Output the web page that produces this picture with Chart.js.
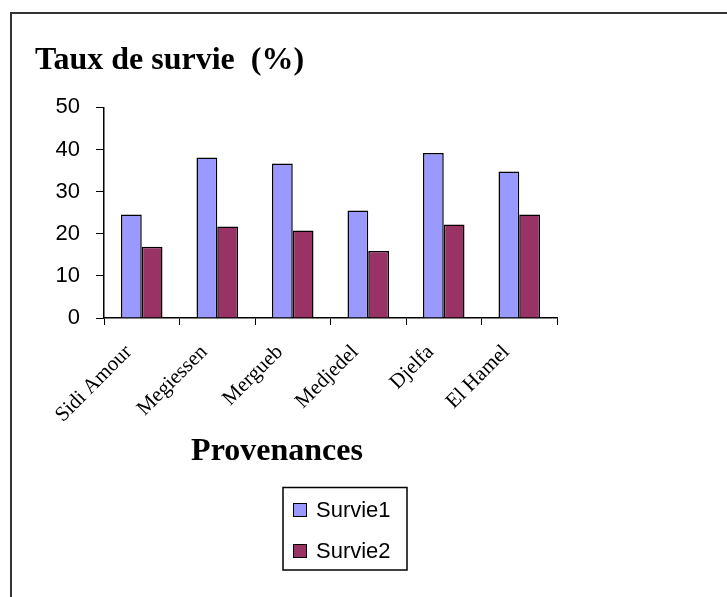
<!DOCTYPE html>
<html>
<head>
<meta charset="utf-8">
<script src="https://cdn.jsdelivr.net/npm/chart.js@4/dist/chart.umd.min.js"></script>
<style>
  html, body { margin: 0; padding: 0; background: #fff; }
  #wrap { position: relative; width: 727px; height: 597px; }
</style>
</head>
<body>
<div id="wrap"><canvas id="chart" width="727" height="597"></canvas></div>
<script>
// Données
var provenances = ['Sidi Amour', 'Megiessen', 'Mergueb', 'Medjedel', 'Djelfa', 'El Hamel'];
var survie1 = [24.6, 38.1, 36.7, 25.5, 39.2, 34.8];
var survie2 = [16.9, 21.7, 20.8, 15.9, 22.2, 24.6];
var yTicks = [0, 10, 20, 30, 40, 50];

var serif = '"Liberation Serif", "Times New Roman", serif';
var sans = '"Liberation Sans", Arial, sans-serif';

// Cadre, titre d'axe et légende encadrée
var decor = {
    id: 'decor',
    beforeDraw: function (chart) {
        var ctx = chart.ctx;
        ctx.save();
        ctx.strokeStyle = '#333';
        ctx.lineWidth = 2;
        ctx.beginPath();
        ctx.moveTo(727, 13);
        ctx.lineTo(11, 13);
        ctx.lineTo(11, 597);
        ctx.stroke();
        ctx.restore();
    },
    afterDraw: function (chart) {
        var ctx = chart.ctx;
        ctx.save();
        // titre de l'axe X
        ctx.fillStyle = '#000';
        ctx.font = 'bold 32px ' + serif;
        ctx.textAlign = 'center';
        ctx.textBaseline = 'alphabetic';
        ctx.fillText('Provenances', 277, 460);

        // légende
        ctx.strokeStyle = '#000';
        ctx.lineWidth = 1.5;
        ctx.strokeRect(283, 487.5, 124, 82.5);
        ctx.font = '22px ' + sans;
        ctx.textAlign = 'left';
        ctx.textBaseline = 'middle';
        chart.data.datasets.forEach(function (ds, i) {
            var cy = 510 + i * 41;
            ctx.fillStyle = ds.backgroundColor;
            ctx.fillRect(293, cy - 7, 14, 14);
            ctx.lineWidth = 1;
            ctx.strokeRect(293.5, cy - 6.5, 13, 13);
            ctx.fillStyle = '#000';
            ctx.fillText(ds.label, 316, cy + 1);
        });
        ctx.restore();
    }
};

new Chart(document.getElementById('chart'), {
    type: 'bar',
    data: {
        labels: provenances,
        datasets: [
            {
                label: 'Survie1',
                data: survie1,
                backgroundColor: '#9999ff',
                borderColor: '#000',
                borderWidth: 1.5,
                categoryPercentage: 0.55,
                barPercentage: 1.0
            },
            {
                label: 'Survie2',
                data: survie2,
                backgroundColor: '#993366',
                borderColor: '#000',
                borderWidth: 1.5,
                categoryPercentage: 0.55,
                barPercentage: 1.0
            }
        ]
    },
    options: {
        responsive: false,
        animation: false,
        layout: { padding: { left: 35, top: 42, right: 170, bottom: 0 } },
        plugins: {
            legend: { display: false },
            tooltip: { enabled: false },
            title: {
                display: true,
                text: 'Taux de survie  (%)',
                align: 'start',
                color: '#000',
                font: { family: serif, size: 32, weight: 'bold' },
                padding: { top: 0, bottom: 27 }
            }
        },
        scales: {
            x: {
                grid: { drawOnChartArea: false, color: '#000', tickLength: 7, offset: true },
                border: { color: '#000', width: 1.5 },
                ticks: {
                    color: '#000',
                    font: { family: serif, size: 21 },
                    minRotation: 45,
                    maxRotation: 45,
                    padding: 15,
                    labelOffset: -13
                },
                afterFit: function (scale) { scale.height = 279; }
            },
            y: {
                min: 0,
                max: 50,
                afterBuildTicks: function (scale) {
                    scale.ticks = yTicks.map(function (v) { return { value: v }; });
                },
                grid: { drawOnChartArea: false, color: '#000', tickLength: 8 },
                border: { color: '#000', width: 1.5 },
                ticks: {
                    color: '#000',
                    font: { family: sans, size: 22 },
                    padding: 16
                },
                afterFit: function (scale) { scale.width = 69; }
            }
        }
    },
    plugins: [decor]
});
</script>
</body>
</html>
